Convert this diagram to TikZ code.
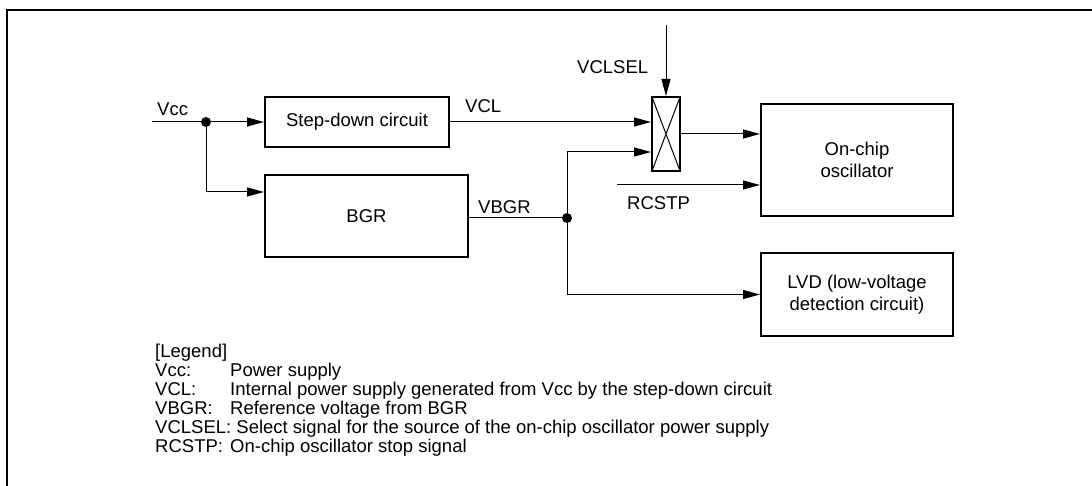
\documentclass[tikz,border=0pt]{standalone}
\usepackage{fontspec}
\setmainfont{Liberation Sans}
\usetikzlibrary{arrows.meta}
\newcommand\dfont{\fontsize{18.5}{22}\selectfont}
\begin{document}
\begin{tikzpicture}[x=1pt,y=-1pt,
  box/.style={draw,line width=2pt,inner sep=0pt,align=center,font=\dfont},
  wire/.style={line width=1pt},
  arr/.style={wire,-{Triangle[length=17pt,width=9pt]}},
  lbl/.style={inner sep=0pt,font=\dfont},
  leg/.style={inner sep=0pt,font=\dfont,anchor=base west},
  junc/.style={circle,fill,inner sep=0pt,minimum size=10pt},
  sel/.style={box,path picture={\draw[line width=1pt]
     (path picture bounding box.north west) -- (path picture bounding box.south east)
     (path picture bounding box.south west) -- (path picture bounding box.north east);}}]
\useasboundingbox (0,0) rectangle (1092,486);
% frame
\draw[line width=2pt] (7,486) -- (7,10) -- (1092,10);
% blocks
\node[box,minimum width=184pt,minimum height=50pt] (stepdown) at (357,122) {Step-down circuit};
\node[box,minimum width=203pt,minimum height=82pt] (bgr) at (366.5,216) {BGR};
\node[sel,minimum width=28pt,minimum height=74pt] (sw) at (666,134) {};
\node[box,minimum width=192pt,minimum height=112pt] (osc) at (857,160) {On-chip\\oscillator};
\node[box,minimum width=192pt,minimum height=83pt] (lvd) at (857,294.5) {LVD (low-voltage\\detection circuit)};
% junctions and free ends
\coordinate (vccin) at (152,122);
\node[junc] (j1) at (206,122) {};
\node[junc] (j2) at (567,218) {};
\coordinate (vclselin) at (666,25);
\coordinate (rcstpin) at (617,185);
% connectors
\draw[wire] (vccin) -- (j1);
\draw[arr] (j1) -- (stepdown.west);
\draw[arr] (j1) |- ([yshift=-18pt]bgr.north west);
\draw[arr] (stepdown.east) -- (stepdown.east -| sw.west);
\draw[wire] (bgr.east |- j2) -- (j2);
\draw[arr] (j2) |- ([yshift=-18pt]sw.west);
\draw[arr] (j2) |- (lvd.west);
\draw[arr] (sw.east) -- (sw.east -| osc.west);
\draw[arr] (rcstpin) -- (rcstpin -| osc.west);
\draw[arr] (vclselin) -- (sw.north);
% signal labels
\node[lbl,anchor=west] (lvcc) at (157,109) {Vcc};
\node[lbl,anchor=west] (lvcl) at (465,106) {VCL};
\node[lbl,anchor=west] (lvbgr) at (478,207) {VBGR};
\node[lbl,anchor=west] (lvclsel) at (577,67) {VCLSEL};
\node[lbl,anchor=west] (lrcstp) at (627,203) {RCSTP};
% legend
\node[leg] (legt) at (155,357) {[Legend]};
\node[leg] (t1) at (155,376) {Vcc:};
\node[leg] (d1) at (230,376) {Power supply};
\node[leg] (t2) at (155,395) {VCL:};
\node[leg] (d2) at (230,395) {Internal power supply generated from Vcc by the step-down circuit};
\node[leg] (t3) at (155,414) {VBGR:};
\node[leg] (d3) at (230,414) {Reference voltage from BGR};
\node[leg] (t4) at (155,433) {VCLSEL: Select signal for the source of the on-chip oscillator power supply};
\node[leg] (t5) at (155,452) {RCSTP:};
\node[leg] (d5) at (230,452) {On-chip oscillator stop signal};
\end{tikzpicture}
\end{document}
